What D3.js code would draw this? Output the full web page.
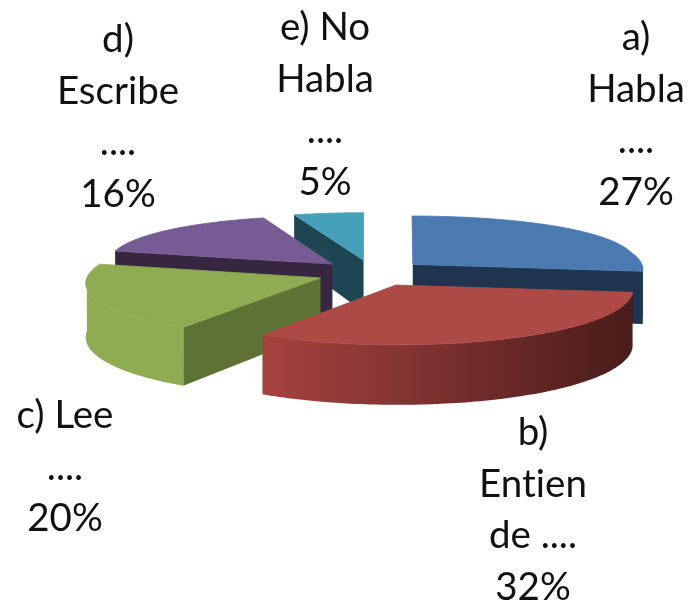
<!DOCTYPE html>
<html>
<head>
<meta charset="utf-8">
<script src="https://cdn.jsdelivr.net/npm/d3@7"></script>
<style>
  html, body { margin: 0; background: #fff; }
  svg { filter: blur(0.5px); }
  text { font-family: Lato, "Open Sans", sans-serif; fill: #111; font-variant-ligatures: none; }
</style>
</head>
<body>
<div id="chart"></div>
<script>
const categories = ["a) Habla ....", "b) Entien de ....", "c) Lee ....", "d) Escribe ....", "e) No Habla ...."];
const values = [27, 32, 20, 16, 5];
const labelLines = [
  ["a)", "Habla", "....", "27%"],
  ["b)", "Entien", "de ....", "32%"],
  ["c) Lee", "....", "20%"],
  ["d)", "Escribe", "....", "16%"],
  ["e) No", "Habla", "....", "5%"],
];
const topColors = ["#4a7ab0", "#ae4a45", "#8fac52", "#775b94", "#46a0ba"];
const wallColors = ["#1f344f", "#4a1c1b", "#5f7235", "#362640", "#1e4652"];
const rimFrom = ["#1f344f", "#a6433f", "#8fac52", "#362640", "#1e4652"];
const rimTo = ["#1f344f", "#4a1c1b", "#8fac52", "#362640", "#1e4652"];

const width = 689;
const height = 607;
const cx = 372, cy = 273;
const radius = 232, explode = 55;
const tilt = 0.24, tiltBack = 0.00043, tiltFront = 0.00022;
const widenBack = 0.03, widenBackSpan = 90, widenFront = 0.00035;
const depthBase = 53, depthGrow = 0.025;
const fontSize = 38.5, lineHeight = 51.5;
// label anchor: centre x and first baseline
const labelAnchor = [[636, 50], [533, 445], [65, 428], [118, 52], [325, 40]];

const svg = d3.select("#chart").append("svg")
  .attr("width", width)
  .attr("height", height);
const defs = svg.append("defs");

const pie = d3.pie().value((d) => d).sort(null);
const slices = pie(values);

// flat pie plane to screen, the near side is drawn larger
function project(a, r, mid, drop) {
  const px = explode * Math.sin(mid) + r * Math.sin(a);
  const v = -(explode * Math.cos(mid) + r * Math.cos(a));
  const widen = v < 0 ? 1 - widenBack * Math.min(1, -v / widenBackSpan) : 1 + widenFront * v;
  const x = cx + px * widen;
  const y = cy + v * tilt * (1 + (v < 0 ? tiltBack : tiltFront) * v);
  return [x, drop ? y + depthBase + depthGrow * v : y];
}

const line = d3.line();

function arcPoints(a0, a1, mid, drop) {
  const n = Math.max(2, Math.ceil(Math.abs(a1 - a0) / 0.02));
  return d3.range(n + 1).map((i) => project(a0 + ((a1 - a0) * i) / n, radius, mid, drop));
}

function radialWall(a, mid) {
  return [
    project(a, 0, mid, false),
    project(a, radius, mid, false),
    project(a, radius, mid, true),
    project(a, 0, mid, true),
  ];
}

// painter's order, back to front
const order = [4, 3, 0, 2, 1];

order.forEach((i) => {
  const s = slices[i];
  const mid = (s.startAngle + s.endAngle) / 2;
  const g = svg.append("g").attr("class", "slice");

  if (Math.cos(s.startAngle - Math.PI / 2) < 0) {
    g.append("path").attr("d", line(radialWall(s.startAngle, mid)) + "Z").attr("fill", wallColors[i]);
  }
  if (Math.cos(s.endAngle + Math.PI / 2) < 0) {
    g.append("path").attr("d", line(radialWall(s.endAngle, mid)) + "Z").attr("fill", wallColors[i]);
  }

  // outer rim, only the part turned to the viewer
  const r0 = Math.max(s.startAngle, Math.PI / 2);
  const r1 = Math.min(s.endAngle, (3 * Math.PI) / 2);
  if (r1 > r0) {
    const rim = arcPoints(r0, r1, mid, false).concat(arcPoints(r1, r0, mid, true));
    const xs = d3.extent(rim, (d) => d[0]);
    const grad = defs.append("linearGradient")
      .attr("id", "rim" + i)
      .attr("gradientUnits", "userSpaceOnUse")
      .attr("x1", xs[0]).attr("x2", xs[1])
      .attr("y1", 0).attr("y2", 0);
    grad.append("stop").attr("offset", "0").attr("stop-color", rimFrom[i]);
    grad.append("stop").attr("offset", "1").attr("stop-color", rimTo[i]);
    g.append("path").attr("d", line(rim) + "Z").attr("fill", `url(#rim${i})`);
  }

  // thin stroke closes the antialias seam against the rim
  const top = [project(s.startAngle, 0, mid, false)].concat(arcPoints(s.startAngle, s.endAngle, mid, false));
  g.append("path")
    .attr("d", line(top) + "Z")
    .attr("fill", topColors[i])
    .attr("stroke", topColors[i])
    .attr("stroke-width", 0.8);
});

labelLines.forEach((lines, i) => {
  const t = svg.append("text")
    .attr("text-anchor", "middle")
    .attr("font-size", fontSize);
  lines.forEach((txt, j) => {
    t.append("tspan")
      .attr("x", labelAnchor[i][0])
      .attr("y", labelAnchor[i][1] + j * lineHeight)
      .text(txt);
  });
});
</script>
</body>
</html>
